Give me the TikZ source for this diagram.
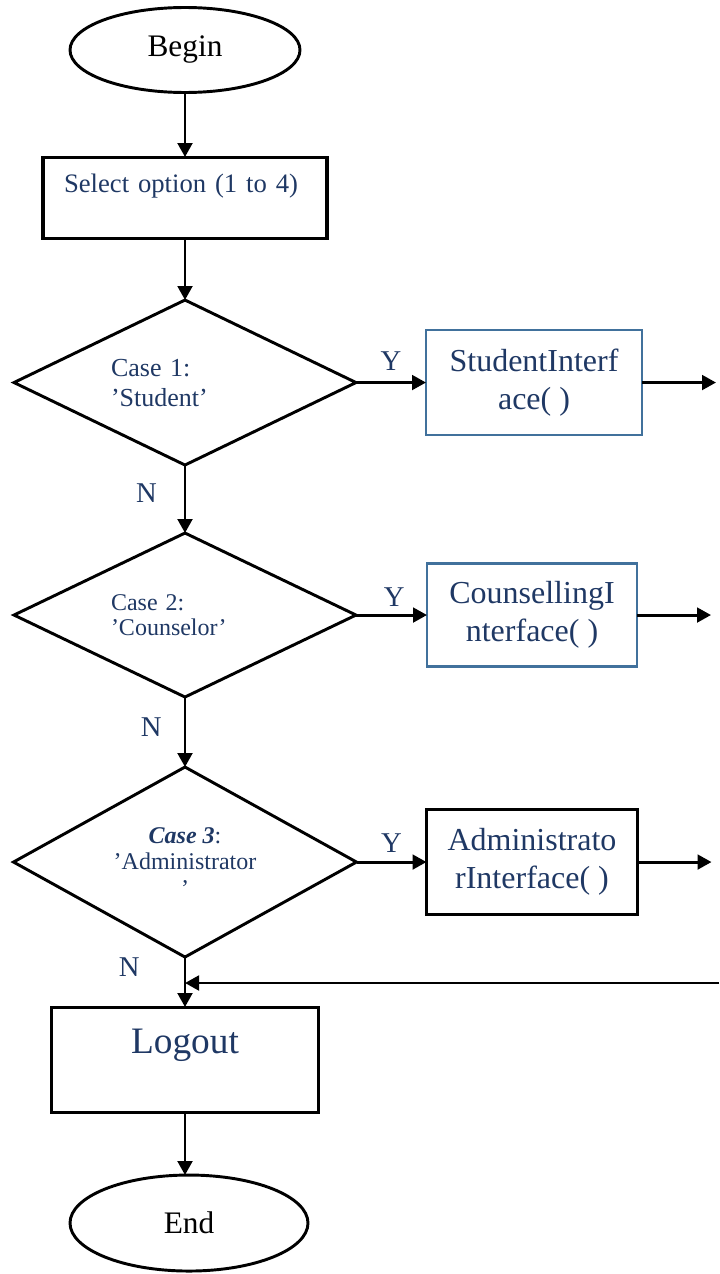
\documentclass[tikz,border=0pt]{standalone}
\usepackage{fontspec}
\setmainfont{Liberation Serif}
\usepackage{xcolor}
\usetikzlibrary{arrows.meta,positioning,shapes.geometric}
\definecolor{txtblue}{HTML}{1F3864}
\definecolor{boxblue}{HTML}{41719C}
\tikzset{
	terminal/.style={draw, ellipse, line width=2.2pt, inner sep=0pt, outer sep=0pt, font=\fontsize{23.5}{27}\selectfont},
	procbox/.style={draw, line width=2.3pt, inner sep=0pt, outer sep=0pt, text=txtblue},
	ifacebox/.style={draw=boxblue, line width=1.8pt, inner sep=0pt, outer sep=0pt, align=center, text=txtblue, font=\fontsize{24}{28.5}\selectfont},
	decision/.style={draw, diamond, line width=2.2pt, inner sep=2pt, outer sep=0pt, text=txtblue},
	arrow/.style={-{Triangle[length=10.5pt,width=11pt]}, line width=2.2pt},
	flag/.style={text=txtblue, font=\fontsize{21.5}{24}\selectfont, inner sep=0pt}
}
\begin{document}
\begin{tikzpicture}[x=0.75pt, y=-0.75pt]
	\useasboundingbox (0,0) rectangle (719,1274);
	
	%% -- start and option box
	\node[terminal, minimum width=172.5pt, minimum height=63.75pt] (begin) at (185,50) {Begin};
	\node[procbox, minimum width=213pt, minimum height=60.75pt, below=48.4pt of begin,
	font=\fontsize{20}{24}\selectfont, text width=181.5pt, align=left,
	text height=14pt, text depth=22pt] (select) {Select option (1 to 4)};
	
	%% -- the three cases
	\node[decision, shape aspect=2.07, minimum width=256.5pt, minimum height=123.75pt,
	text width=111pt, align=left, font=\fontsize{19.5}{22.5}\selectfont,
	below=46.5pt of select] (case1) {Case 1:\\’Student’};
	\node[decision, shape aspect=2.07, minimum width=256.5pt, minimum height=123pt,
	text width=111pt, align=left, font=\fontsize{18}{19}\selectfont,
	below=51pt of case1] (case2) {Case 2:\\’Counselor’};
	\node[decision, shape aspect=1.8, minimum width=257.25pt, minimum height=142.5pt,
	align=center, font=\fontsize{18}{20}\selectfont,
	below=52.5pt of case2] (case3) {\textbf{\textit{Case 3}}:\\’Administrator\\’};
	
	%% -- interfaces
	\node[ifacebox, minimum width=162pt, minimum height=78.75pt, right=52.5pt of case1] (student) {StudentInterf\\ace( )};
	\node[ifacebox, minimum width=157.5pt, minimum height=77.25pt, right=53.25pt of case2] (counsel) {CounsellingI\\nterface( )};
	\node[ifacebox, draw=black, line width=2.3pt, minimum width=158.25pt, minimum height=78.75pt, right=52.5pt of case3] (admin) {Administrato\\rInterface( )};
	\coordinate[right=55.5pt of student] (out1);
	\coordinate[right=55.5pt of counsel] (out2);
	\coordinate[right=55.5pt of admin] (out3);
	
	%% -- logout and end
	\node[procbox, minimum width=200.25pt, minimum height=78.75pt, below=37.5pt of case3,
	font=\fontsize{28}{32}\selectfont, text height=19.6pt, text depth=28pt] (logout) {Logout};
	\node[terminal, minimum width=178.5pt, minimum height=72pt, below=47.25pt of logout, xshift=3pt] (end) {End};
	\coordinate (back) at (719,983);
	
	%% -- connectors
	\draw[arrow] (begin) -- (select);
	\draw[arrow] (select) -- (case1);
	\draw[arrow] (case1) -- (case2) node[flag, pos=0.41, left=20pt] {N};
	\draw[arrow] (case2) -- (case3) node[flag, pos=0.43, left=16.5pt] {N};
	\draw[arrow] (case3) -- (logout) node[flag, pos=0.2, left=33pt] {N};
	\draw[arrow] (logout) -- (logout.south |- end.north);
	\draw[arrow] (case1.east) -- (case1.east -| student.west) node[flag, midway, above=8pt] {Y};
	\draw[arrow] (case2.east) -- (case2.east -| counsel.west) node[flag, pos=0.54, above=5pt] {Y};
	\draw[arrow] (case3.east) -- (case3.east -| admin.west) node[flag, midway, above=6pt] {Y};
	\draw[arrow] (student) -- (out1);
	\draw[arrow] (counsel) -- (out2);
	\draw[arrow] (admin) -- (out3);
	\draw[arrow] (back) -- (back -| logout.north);
	
\end{tikzpicture}
\end{document}
